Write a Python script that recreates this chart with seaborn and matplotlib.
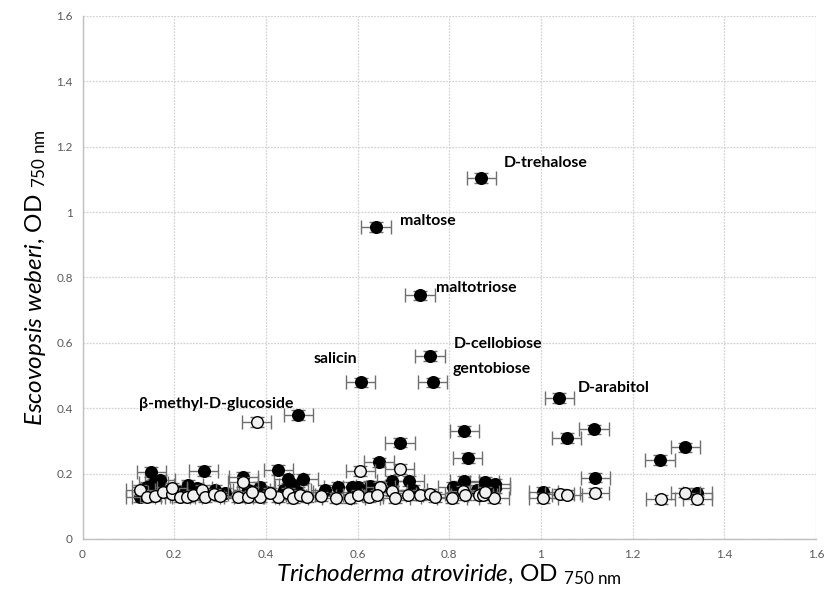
import matplotlib
matplotlib.use("Agg")
import matplotlib.pyplot as plt
import seaborn as sns
import pandas as pd

# ---- data ----
filled_x = [0.87, 0.64, 0.736, 0.758, 0.607, 0.764, 0.471, 1.04,
            1.116, 1.056, 1.315, 1.26, 1.119, 0.833, 0.693, 0.647, 0.84,
            1.341, 1.005,
            0.15, 0.264, 0.427,
            0.169, 0.155, 0.231, 0.126, 0.14, 0.19, 0.21, 0.25, 0.29, 0.31,
            0.351, 0.387, 0.36, 0.40,
            0.449, 0.482, 0.46, 0.44, 0.47,
            0.558, 0.588, 0.601, 0.628, 0.675, 0.713, 0.808, 0.833, 0.877,
            0.9, 0.9, 0.72, 0.86, 0.53]
filled_y = [1.105, 0.955, 0.745, 0.559, 0.479, 0.479, 0.379, 0.431,
            0.335, 0.31, 0.28, 0.241, 0.188, 0.33, 0.295, 0.234, 0.248,
            0.142, 0.144,
            0.205, 0.209, 0.21,
            0.18, 0.17, 0.165, 0.129, 0.16, 0.15, 0.145, 0.155, 0.15, 0.14,
            0.19, 0.16, 0.15, 0.145,
            0.185, 0.185, 0.165, 0.15, 0.145,
            0.16, 0.16, 0.16, 0.163, 0.177, 0.178, 0.16, 0.178, 0.175,
            0.167, 0.155, 0.15, 0.15, 0.15]

open_x = [0.38, 0.606, 0.692, 0.35, 0.65, 0.675,
          0.126, 0.14, 0.158, 0.175, 0.195, 0.195, 0.213, 0.228, 0.242, 0.26,
          0.267, 0.286, 0.30,
          0.34, 0.362, 0.387, 0.427, 0.449, 0.46, 0.475, 0.49, 0.41, 0.37,
          0.554, 0.584, 0.601, 0.624, 0.642, 0.682, 0.711, 0.737, 0.759, 0.77,
          0.806, 0.831, 0.835, 0.864, 0.873, 0.898, 0.877,
          1.005, 1.041, 1.057, 1.117, 1.315, 1.341, 1.261, 0.52]
open_y = [0.357, 0.207, 0.213, 0.175, 0.16, 0.146,
          0.149, 0.129, 0.132, 0.144, 0.139, 0.155, 0.129, 0.129, 0.134, 0.149,
          0.129, 0.139, 0.13,
          0.129, 0.129, 0.129, 0.129, 0.14, 0.125, 0.134, 0.129, 0.14, 0.145,
          0.126, 0.124, 0.134, 0.129, 0.134, 0.126, 0.134, 0.134, 0.139, 0.129,
          0.126, 0.146, 0.134, 0.134, 0.134, 0.126, 0.144,
          0.126, 0.139, 0.136, 0.142, 0.142, 0.121, 0.121, 0.13]

x_error = 0.032
y_error = 0.015

labels = ["D-trehalose", "maltose", "maltotriose", "D-cellobiose", "gentobiose",
          "salicin", "β-methyl-D-glucoside", "D-arabitol"]
label_x = [0.92, 0.693, 0.772, 0.809, 0.807, 0.505, 0.123, 1.08]
label_y = [1.149, 0.973, 0.768, 0.595, 0.521, 0.552, 0.412, 0.463]

ticks = [0, 0.2, 0.4, 0.6, 0.8, 1, 1.2, 1.4, 1.6]
tick_labels = ["0", "0.2", "0.4", "0.6", "0.8", "1", "1.2", "1.4", "1.6"]

# ---- style ----
sns.set_style("white")
plt.rcParams["font.family"] = ["Lato", "DejaVu Sans"]
plt.rcParams["mathtext.fontset"] = "custom"
plt.rcParams["mathtext.rm"] = "Lato"
plt.rcParams["mathtext.it"] = "Lato:italic"
plt.rcParams["mathtext.bf"] = "Lato:bold"

fig = plt.figure(figsize=(8.25, 5.99), dpi=100)
ax = fig.add_axes([0.1, 0.1002, 0.889, 0.8731])

df_f = pd.DataFrame({"x": filled_x, "y": filled_y})
df_o = pd.DataFrame({"x": open_x, "y": open_y})

ax.errorbar(df_f["x"], df_f["y"], xerr=x_error, yerr=y_error, fmt="none",
            ecolor="#6f6f6f", elinewidth=1, capsize=5, capthick=1, zorder=2)
sns.scatterplot(data=df_f, x="x", y="y", ax=ax, color="black", edgecolor="black",
                s=70, linewidth=1, zorder=3, legend=False)
ax.errorbar(df_o["x"], df_o["y"], xerr=x_error, yerr=y_error, fmt="none",
            ecolor="#6f6f6f", elinewidth=1, capsize=5, capthick=1, zorder=4)
sns.scatterplot(data=df_o, x="x", y="y", ax=ax, color="#f0f0f0", edgecolor="black",
                s=70, linewidth=1, zorder=5, legend=False)

for t, lx, ly in zip(labels, label_x, label_y):
    ax.text(lx, ly, t, fontsize=11.4, fontweight="bold", ha="left", va="center",
            color="black", zorder=6)

ax.set_xlim(0, 1.6)
ax.set_ylim(0, 1.6)
ax.set_xticks(ticks)
ax.set_xticklabels(tick_labels)
ax.set_yticks(ticks)
ax.set_yticklabels(tick_labels)
ax.tick_params(axis="both", length=0, labelsize=8.5, labelcolor="#595959", pad=7)
ax.grid(True, color="#d4d4d4", linestyle=(0, (1.5, 1)), linewidth=0.9)
ax.set_axisbelow(True)
for s in ["top", "right"]:
    ax.spines[s].set_visible(False)
for s in ["left", "bottom"]:
    ax.spines[s].set_color("#bfbfbf")
    ax.spines[s].set_linewidth(1)

ax.set_xlabel(r"$\mathit{Trichoderma\ atroviride}$, OD $_{\mathrm{750\ nm}}$",
              fontsize=17.5, labelpad=2, color="black")
ax.set_ylabel(r"$\mathit{Escovopsis\ weberi}$, OD $_{\mathrm{750\ nm}}$",
              fontsize=17.5, labelpad=6, color="black")

fig.savefig("out.png", dpi=100)
